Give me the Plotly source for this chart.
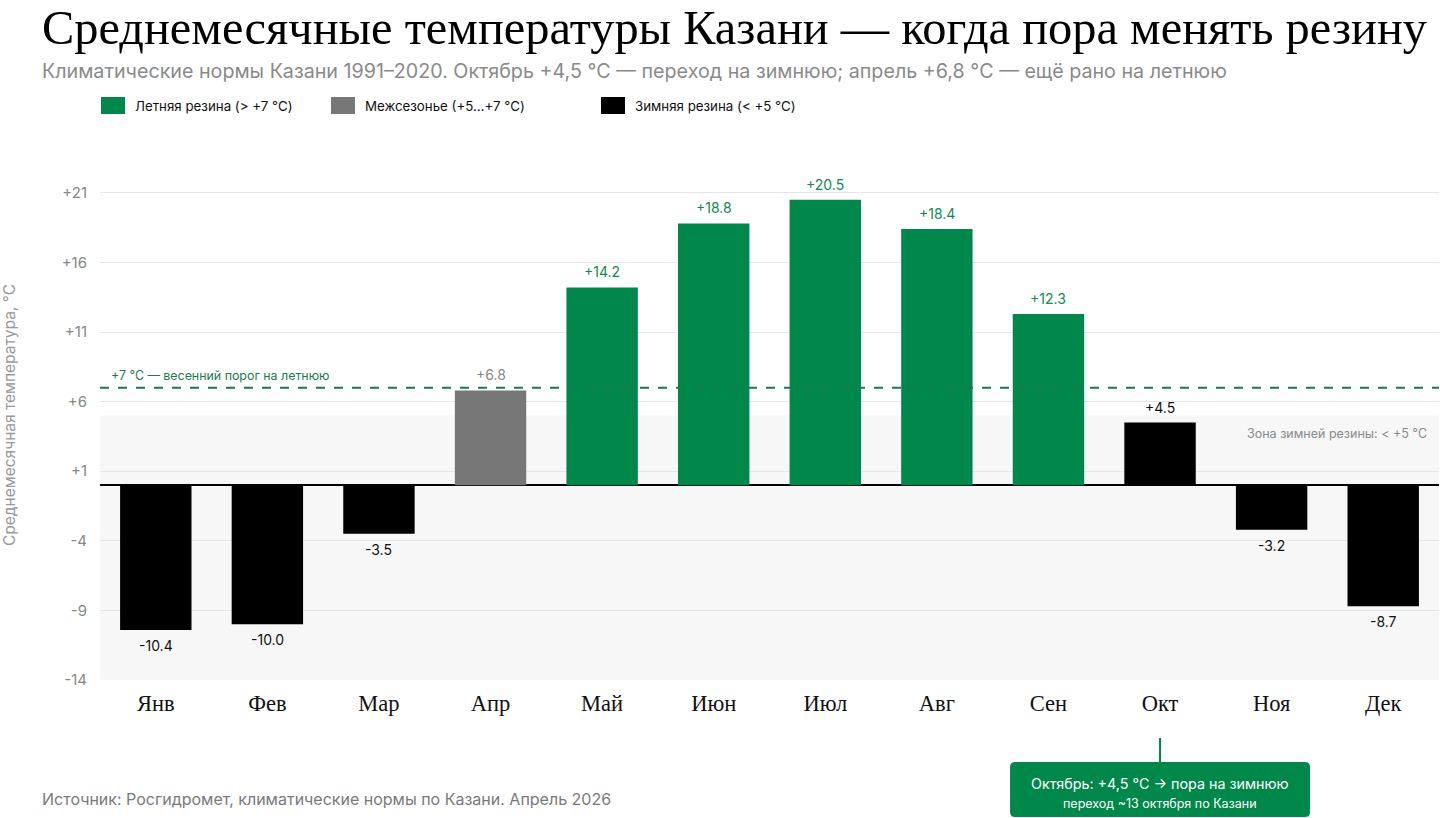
import plotly.graph_objects as go

months = ["Янв", "Фев", "Мар", "Апр", "Май", "Июн", "Июл", "Авг", "Сен", "Окт", "Ноя", "Дек"]
temps = [-10.4, -10.0, -3.5, 6.8, 14.2, 18.8, 20.5, 18.4, 12.3, 4.5, -3.2, -8.7]
groups = ["winter", "winter", "winter", "shoulder", "summer", "summer", "summer", "summer", "summer", "winter", "winter", "winter"]
group_names = {"summer": "Летняя резина (> +7 °C)", "shoulder": "Межсезонье (+5…+7 °C)", "winter": "Зимняя резина (< +5 °C)"}
tick_vals = [-14, -9, -4, 1, 6, 11, 16, 21]
tick_text = ["-14", "-9", "-4", "+1", "+6", "+11", "+16", "+21"]
summer_threshold = 7
winter_threshold = 5

GREEN = "#00874a"
GREY = "#777777"
BLACK = "#000000"
colors = {"summer": GREEN, "shoulder": GREY, "winter": BLACK}
label_colors = {"summer": "#0f8a52", "shoulder": "#888888", "winter": "#111111"}

SANS = "Inter, 'Noto Sans', sans-serif"
SERIF = "'Liberation Serif', 'DejaVu Serif', serif"

W, H = 1440, 818
PL, PR, PT, PB = 100, 1439, 165, 680

def px(x):
    return (x - PL) / (PR - PL)

def py(y):
    return (PB - y) / (PB - PT)

fig = go.Figure()
for g in ["summer", "shoulder", "winter"]:
    xs = [m for m, gg in zip(months, groups) if gg == g]
    ys = [t for t, gg in zip(temps, groups) if gg == g]
    fig.add_trace(go.Bar(x=xs, y=ys, name=group_names[g], marker_color=colors[g],
                         marker_line_width=0, width=0.64, showlegend=False,
                         hoverinfo="x+y"))

annotations = []
# value labels
for m, t, g in zip(months, temps, groups):
    annotations.append(dict(x=m, y=t, xref="x", yref="y", text=f"{t:+.1f}",
                            showarrow=False, yanchor="bottom" if t > 0 else "top",
                            yshift=5 if t > 0 else -5,
                            font=dict(family=SANS, size=14, color=label_colors[g])))

# threshold label
annotations.append(dict(x=px(109), y=summer_threshold, xref="paper", yref="y",
                        text="+7 °C — весенний порог на летнюю", showarrow=False,
                        xanchor="left", yanchor="bottom", yshift=3,
                        font=dict(family=SANS, size=12.4, color="#1a7a50")))
# winter zone label
annotations.append(dict(x=px(1429), y=py(433), xref="paper", yref="paper",
                        text="Зона зимней резины: < +5 °C", showarrow=False,
                        xanchor="right", yanchor="middle",
                        font=dict(family=SANS, size=12.5, color="#8a8a8a")))

# y-axis title
annotations.append(dict(x=px(9), y=py(415), xref="paper", yref="paper",
                        text="Среднемесячная температура, °C", showarrow=False,
                        textangle=-90, xanchor="center", yanchor="middle",
                        font=dict(family=SANS, size=15.5, color="#999")))

# title / subtitle / source
annotations.append(dict(x=px(40), y=1, yshift=(PT - 27), xref="paper", yref="paper",
                        text="Среднемесячные температуры Казани — когда пора менять резину",
                        showarrow=False, xanchor="left", yanchor="middle",
                        font=dict(family=SERIF, size=48.4, color="#000")))
annotations.append(dict(x=px(40), y=py(71), xref="paper", yref="paper",
                        text="Климатические нормы Казани 1991–2020. Октябрь +4,5 °C — переход на зимнюю; апрель +6,8 °C — ещё рано на летнюю",
                        showarrow=False, xanchor="left", yanchor="middle",
                        font=dict(family=SANS, size=19.7, color="#8a8a8a")))
annotations.append(dict(x=px(40), y=py(799), xref="paper", yref="paper",
                        text="Источник: Росгидромет, климатические нормы по Казани. Апрель 2026",
                        showarrow=False, xanchor="left", yanchor="middle",
                        font=dict(family=SANS, size=16, color="#7a7a7a")))

shapes = []
# winter zone shading
shapes.append(dict(type="rect", xref="paper", yref="y", x0=0, x1=1, y0=tick_vals[0], y1=winter_threshold,
                   fillcolor="#f7f7f7", line_width=0, layer="below"))
# summer threshold line
shapes.append(dict(type="line", xref="paper", yref="y", x0=0, x1=1, y0=summer_threshold, y1=summer_threshold,
                   line=dict(color="#1a7a50", width=2, dash="dash"), layer="above"))

# manual legend
leg_x = [101, 331, 601]
for lx, g in zip(leg_x, ["summer", "shoulder", "winter"]):
    shapes.append(dict(type="rect", xref="paper", yref="paper", x0=px(lx), x1=px(lx + 24),
                       y0=py(114), y1=py(97), fillcolor=colors[g], line_width=0))
    annotations.append(dict(x=px(lx + 32), y=py(105.5), xref="paper", yref="paper",
                            text=group_names[g], showarrow=False, xanchor="left", yanchor="middle",
                            font=dict(family=SANS, size=13.3, color="#111")))

# callout for October
oct_idx = months.index("Окт")
shapes.append(dict(type="line", xref="x", yref="paper", x0=oct_idx, x1=oct_idx,
                   y0=py(738), y1=py(762), line=dict(color=GREEN, width=2)))
half = 150 / (PR - PL) * 12  # half box width in category units
r_x = 5 / (PR - PL) * 12
r_y = 5 / (PB - PT)
x0, x1 = oct_idx - half, oct_idx + half
y0, y1 = py(817), py(762)
path = (f"M{x0 + r_x},{y1} L{x1 - r_x},{y1} Q{x1},{y1} {x1},{y1 - r_y} "
        f"L{x1},{y0 + r_y} Q{x1},{y0} {x1 - r_x},{y0} L{x0 + r_x},{y0} "
        f"Q{x0},{y0} {x0},{y0 + r_y} L{x0},{y1 - r_y} Q{x0},{y1} {x0 + r_x},{y1} Z")
shapes.append(dict(type="path", xref="x", yref="paper", path=path, fillcolor=GREEN, line_width=0))
annotations.append(dict(x=oct_idx, y=py(783), xref="x", yref="paper",
                        text="Октябрь: +4,5 °C → пора на зимнюю", showarrow=False,
                        xanchor="center", yanchor="middle",
                        font=dict(family=SANS, size=14.3, color="#fff")))
annotations.append(dict(x=oct_idx, y=py(803), xref="x", yref="paper",
                        text="переход ~13 октября по Казани", showarrow=False,
                        xanchor="center", yanchor="middle",
                        font=dict(family=SANS, size=12.5, color="#fff")))

fig.update_layout(
    width=W, height=H,
    margin=dict(l=PL, r=W - PR, t=PT, b=H - PB),
    paper_bgcolor="#fff", plot_bgcolor="#fff",
    barmode="overlay",
    showlegend=False,
    annotations=annotations,
    shapes=shapes,
    xaxis=dict(type="category", categoryorder="array", categoryarray=months,
               showgrid=False, showline=False, ticks="", ticklabelstandoff=7,
               tickfont=dict(family=SERIF, size=22.5, color="#111"), range=[-0.5, 11.5]),
    yaxis=dict(range=[-14, 23], tickvals=tick_vals, ticktext=tick_text,
               showgrid=True, gridcolor="#e6e6e6", gridwidth=1,
               zeroline=True, zerolinecolor="#000", zerolinewidth=1.5,
               showline=False, ticks="", ticklabelstandoff=12,
               tickfont=dict(family=SANS, size=15, color="#888")),
)

fig.write_html("out.html")
